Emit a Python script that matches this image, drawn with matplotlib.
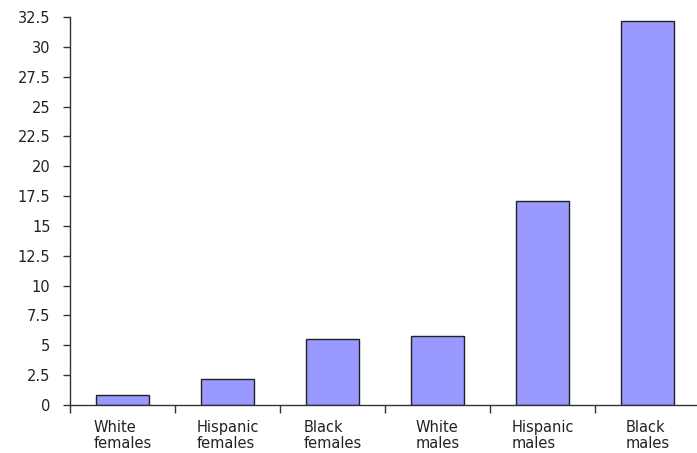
import matplotlib
matplotlib.use("Agg")
import matplotlib.pyplot as plt
import numpy as np

categories = ["White\nfemales", "Hispanic\nfemales", "Black\nfemales",
              "White\nmales", "Hispanic\nmales", "Black\nmales"]
values = [0.8, 2.2, 5.5, 5.8, 17.1, 32.2]
yticks = np.arange(0, 33, 2.5)
ytick_labels = ["0", "2.5", "5", "7.5", "10", "12.5", "15", "17.5",
                "20", "22.5", "25", "27.5", "30", "32.5"]

plt.rcParams['font.family'] = ['DejaVu Sans']

fig = plt.figure(figsize=(6.97, 4.53), dpi=100)
ax = fig.add_axes([70/697, 1 - 405/453, 630/697, (405 - 17)/453])

x = np.arange(len(categories))
ax.bar(x, values, width=0.5, color="#9999ff", edgecolor="#222222", linewidth=1)

ax.set_xlim(-0.5, len(categories) - 0.5)
ax.set_ylim(0, 32.5)

ax.set_yticks(yticks)
ax.set_yticklabels(ytick_labels, fontsize=10.5, color="#222222")
ax.tick_params(axis="y", length=5, width=1, color="#333333", pad=9)

# category labels centred, ticks on the boundaries
ax.set_xticks(x)
ax.set_xticklabels(categories, fontsize=10.5, color="#222222", multialignment="left",
                   linespacing=1.05)
ax.tick_params(axis="x", which="major", length=0, pad=11)
ax.set_xticks(np.arange(-0.5, len(categories), 1), minor=True)
ax.tick_params(axis="x", which="minor", length=6, width=1, color="#333333")

for side in ["top", "right"]:
    ax.spines[side].set_visible(False)
for side in ["left", "bottom"]:
    ax.spines[side].set_color("#333333")
    ax.spines[side].set_linewidth(1)

fig.savefig("out.png", dpi=100)
